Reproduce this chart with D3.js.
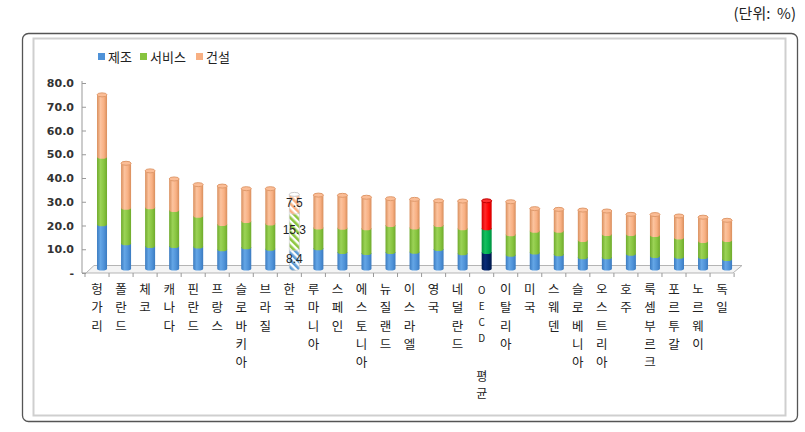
<!DOCTYPE html>
<html><head><meta charset="utf-8">
<script src="https://cdn.jsdelivr.net/npm/d3@7"></script>
<style>body{margin:0;background:#fff}svg{display:block}</style>
</head><body>
<svg id="c" width="805" height="432"></svg>
<script>
const categories = ["헝가리","폴란드","체코","캐나다","핀란드","프랑스","슬로바키아","브라질","한국","루마니아","스페인","에스토니아","뉴질랜드","이스라엘","영국","네덜란드","OECD 평균","이탈리아","미국","스웨덴","슬로베니아","오스트리아","호주","룩셈부르크","포르투갈","노르웨이","독일"];
const manufacturing = [18.6,10.6,9.5,9.5,9.3,8.1,8.9,8.3,8.4,8.5,6.9,6.5,6.9,7.1,8.2,6.4,6.9,5.8,6.7,6.0,4.7,4.7,6.2,5.3,5.0,4.8,4.0];
const services      = [28.5,15.0,16.3,15.1,12.9,10.6,11.1,10.7,15.3,8.8,10.3,10.4,11.4,10.2,10.1,10.5,10.0,8.6,9.2,9.9,7.3,9.8,8.3,8.8,8.1,6.8,8.0];
const construction  = [26.0,18.7,15.3,13.1,13.1,16.0,13.6,14.6,7.5,13.6,13.6,13.1,11.1,11.8,10.2,11.5,11.6,13.7,9.3,9.0,12.6,9.7,8.3,8.6,9.0,10.0,8.3];
const seriesNames = ["제조","서비스","건설"];
const yTicks = [0,10,20,30,40,50,60,70,80];
const unitLabel = "(단위:  %)";

const svg = d3.select("#c");
const font = "'Noto Sans CJK KR','Noto Sans',sans-serif";
const defs = svg.append("defs");

// frame
svg.append("rect").attr("x",22.5).attr("y",33.5).attr("width",775).attr("height",388).attr("rx",6)
  .attr("fill","none").attr("stroke","#555").attr("stroke-width",1.3);
svg.append("rect").attr("x",33.5).attr("y",38.5).attr("width",752).attr("height",377)
  .attr("fill","none").attr("stroke","#cfcfcf").attr("stroke-width",2);

svg.append("text").attr("x",796).attr("y",19).attr("text-anchor","end").style("white-space","pre")
  .attr("font-family",font).attr("font-size",15).attr("fill","#222").text(unitLabel);

// scales
const xBar = d3.scaleBand().domain(categories).range([90,739.1]).paddingInner(0);
const xFront = d3.scaleBand().domain(categories).range([85,734.1]);
const yBar = d3.scaleLinear().domain([0,80]).range([268.5,78.5]);
const yAxisS = d3.scaleLinear().domain([0,80]).range([273,83]);

// floor
svg.append("path").attr("d","M86,273 L733,273 L742,265.5 L94,265.5 Z")
  .attr("fill","#f4f4f4").attr("stroke","#b5b5b5").attr("stroke-width",1);

// y axis
const yAxis = d3.axisLeft(yAxisS).tickValues(yTicks).tickSize(4)
  .tickFormat(d => d === 0 ? "-" : d3.format(".1f")(d));
const ga = svg.append("g").attr("transform","translate(86,0)").call(yAxis);
ga.select(".domain").attr("stroke","#999").attr("d","M-4,81V273H0");
ga.selectAll(".tick line").attr("stroke","#999");
ga.selectAll(".tick text").attr("font-family","'DejaVu Sans',sans-serif").attr("font-size",11)
  .attr("font-weight","bold").attr("fill","#333").attr("x",-12);

// x ticks on floor front
svg.append("g").selectAll("line").data(categories.concat(["__end"])).join("line")
  .attr("x1",(d,i)=> xFront.range()[0] + i*xFront.step())
  .attr("x2",(d,i)=> xFront.range()[0] + i*xFront.step())
  .attr("y1",273).attr("y2",277).attr("stroke","#999");

// gradients
function grad(id, dark, mid, light){
  const g = defs.append("linearGradient").attr("id",id).attr("x1","0").attr("x2","1").attr("y1","0").attr("y2","0");
  g.append("stop").attr("offset","0%").attr("stop-color",dark);
  g.append("stop").attr("offset","35%").attr("stop-color",light);
  g.append("stop").attr("offset","70%").attr("stop-color",mid);
  g.append("stop").attr("offset","100%").attr("stop-color",dark);
}
const palette = [
  {dark:"#3b7bc0", mid:"#4f92d8", light:"#64a6e6", top:"#4a8ccf"},
  {dark:"#6faa2c", mid:"#87c43f", light:"#9bd356", top:"#80bb3b"},
  {dark:"#d98e5c", mid:"#f8b083", light:"#fcc39e", top:"#e09a6c"}
];
const oecdPal = [
  {dark:"#001a4d", mid:"#002060", light:"#0a2c78", top:"#001a4d"},
  {dark:"#00913f", mid:"#00b050", light:"#15c060", top:"#00a048"},
  {dark:"#d40000", mid:"#ff0000", light:"#ff2a2a", top:"#c00000"}
];
palette.forEach((p,i)=>grad("g"+i,p.dark,p.mid,p.light));
oecdPal.forEach((p,i)=>grad("o"+i,p.dark,p.mid,p.light));
// hatch patterns for Korea
const hatchCols = ["#5b9bd5","#8cc63e","#f8b083"];
hatchCols.forEach((c,i)=>{
  const p = defs.append("pattern").attr("id","h"+i).attr("patternUnits","userSpaceOnUse")
    .attr("width",5).attr("height",5).attr("patternTransform","rotate(-45)");
  p.append("rect").attr("width",5).attr("height",5).attr("fill","#fff");
  p.append("rect").attr("width",2.6).attr("height",5).attr("fill",c);
});

// stacking
const rows = categories.map((c,i)=>({cat:c, v:[manufacturing[i],services[i],construction[i]]}));
const bw = 10, ry = 2;
const gBars = svg.append("g");
rows.forEach((r,i)=>{
  const cx = xBar(r.cat) + xBar.bandwidth()/2;
  const x0 = cx - bw/2;
  const isOECD = r.cat === "OECD 평균", isKorea = r.cat === "한국";
  let acc = 0;
  const g = gBars.append("g");
  r.v.forEach((v,s)=>{
    const yb = yBar(acc), yt = yBar(acc+v);
    const fill = isKorea ? "url(#h"+s+")" : (isOECD ? "url(#o"+s+")" : "url(#g"+s+")");
    g.append("path")
      .attr("d",`M${x0},${yt} L${x0},${yb} A${bw/2},${ry} 0 0 0 ${x0+bw},${yb} L${x0+bw},${yt} Z`)
      .attr("fill",fill).attr("stroke", isKorea ? "#c8c8c8" : "none").attr("stroke-width",0.6);
    acc += v;
  });
  const yTop = yBar(acc);
  const pal = isOECD ? oecdPal[2] : palette[2];
  g.append("ellipse").attr("cx",cx).attr("cy",yTop).attr("rx",bw/2).attr("ry",ry)
    .attr("fill", isKorea ? "#fff" : (isOECD ? "#ff3030" : "#fbbd96"))
    .attr("stroke", isKorea ? "#ccc" : pal.top).attr("stroke-width",1);
  if (isKorea){
    let a = 0;
    r.v.forEach((v,s)=>{
      svg.append("text").attr("x",cx).attr("y",yBar(a+v/2)+4).attr("text-anchor","middle")
        .attr("font-family","'Liberation Sans',Arial,sans-serif").attr("font-size",12).attr("fill","#222")
        .text(d3.format(".1f")(v));
      a += v;
    });
  }
});

// x labels (vertical stacked characters)
rows.forEach((r,i)=>{
  const cx = xFront(r.cat) + xFront.bandwidth()/2;
  const chars = Array.from(r.cat);
  const isO = r.cat === "OECD 평균";
  const t = svg.append("text").attr("text-anchor","middle").attr("font-family",font)
    .attr("font-size",12.5).attr("fill","#222");
  chars.forEach((ch,k)=>{
    if (ch === " ") return;
    const latin = /[A-Z]/.test(ch);
    let y;
    if (!isO) y = 294 + k*18.3;
    else y = k < 4 ? 293.5 + k*16 : 380.5 + (k-5)*17.5;
    t.append("tspan").attr("x",cx).attr("y",y)
      .attr("font-size", latin ? 10 : (isO ? 12 : 12.5)).text(ch);
  });
});

// legend
const lg = svg.append("g").attr("transform","translate(98,57)");
const legX = [0,42,98];
seriesNames.forEach((n,i)=>{
  lg.append("rect").attr("x",legX[i]).attr("y",-4).attr("width",7).attr("height",7).attr("fill",palette[i].mid);
  lg.append("text").attr("x",legX[i]+10).attr("y",5).attr("font-family",font).attr("font-size",13)
    .attr("fill","#222").text(n);
});
</script>
</body></html>
